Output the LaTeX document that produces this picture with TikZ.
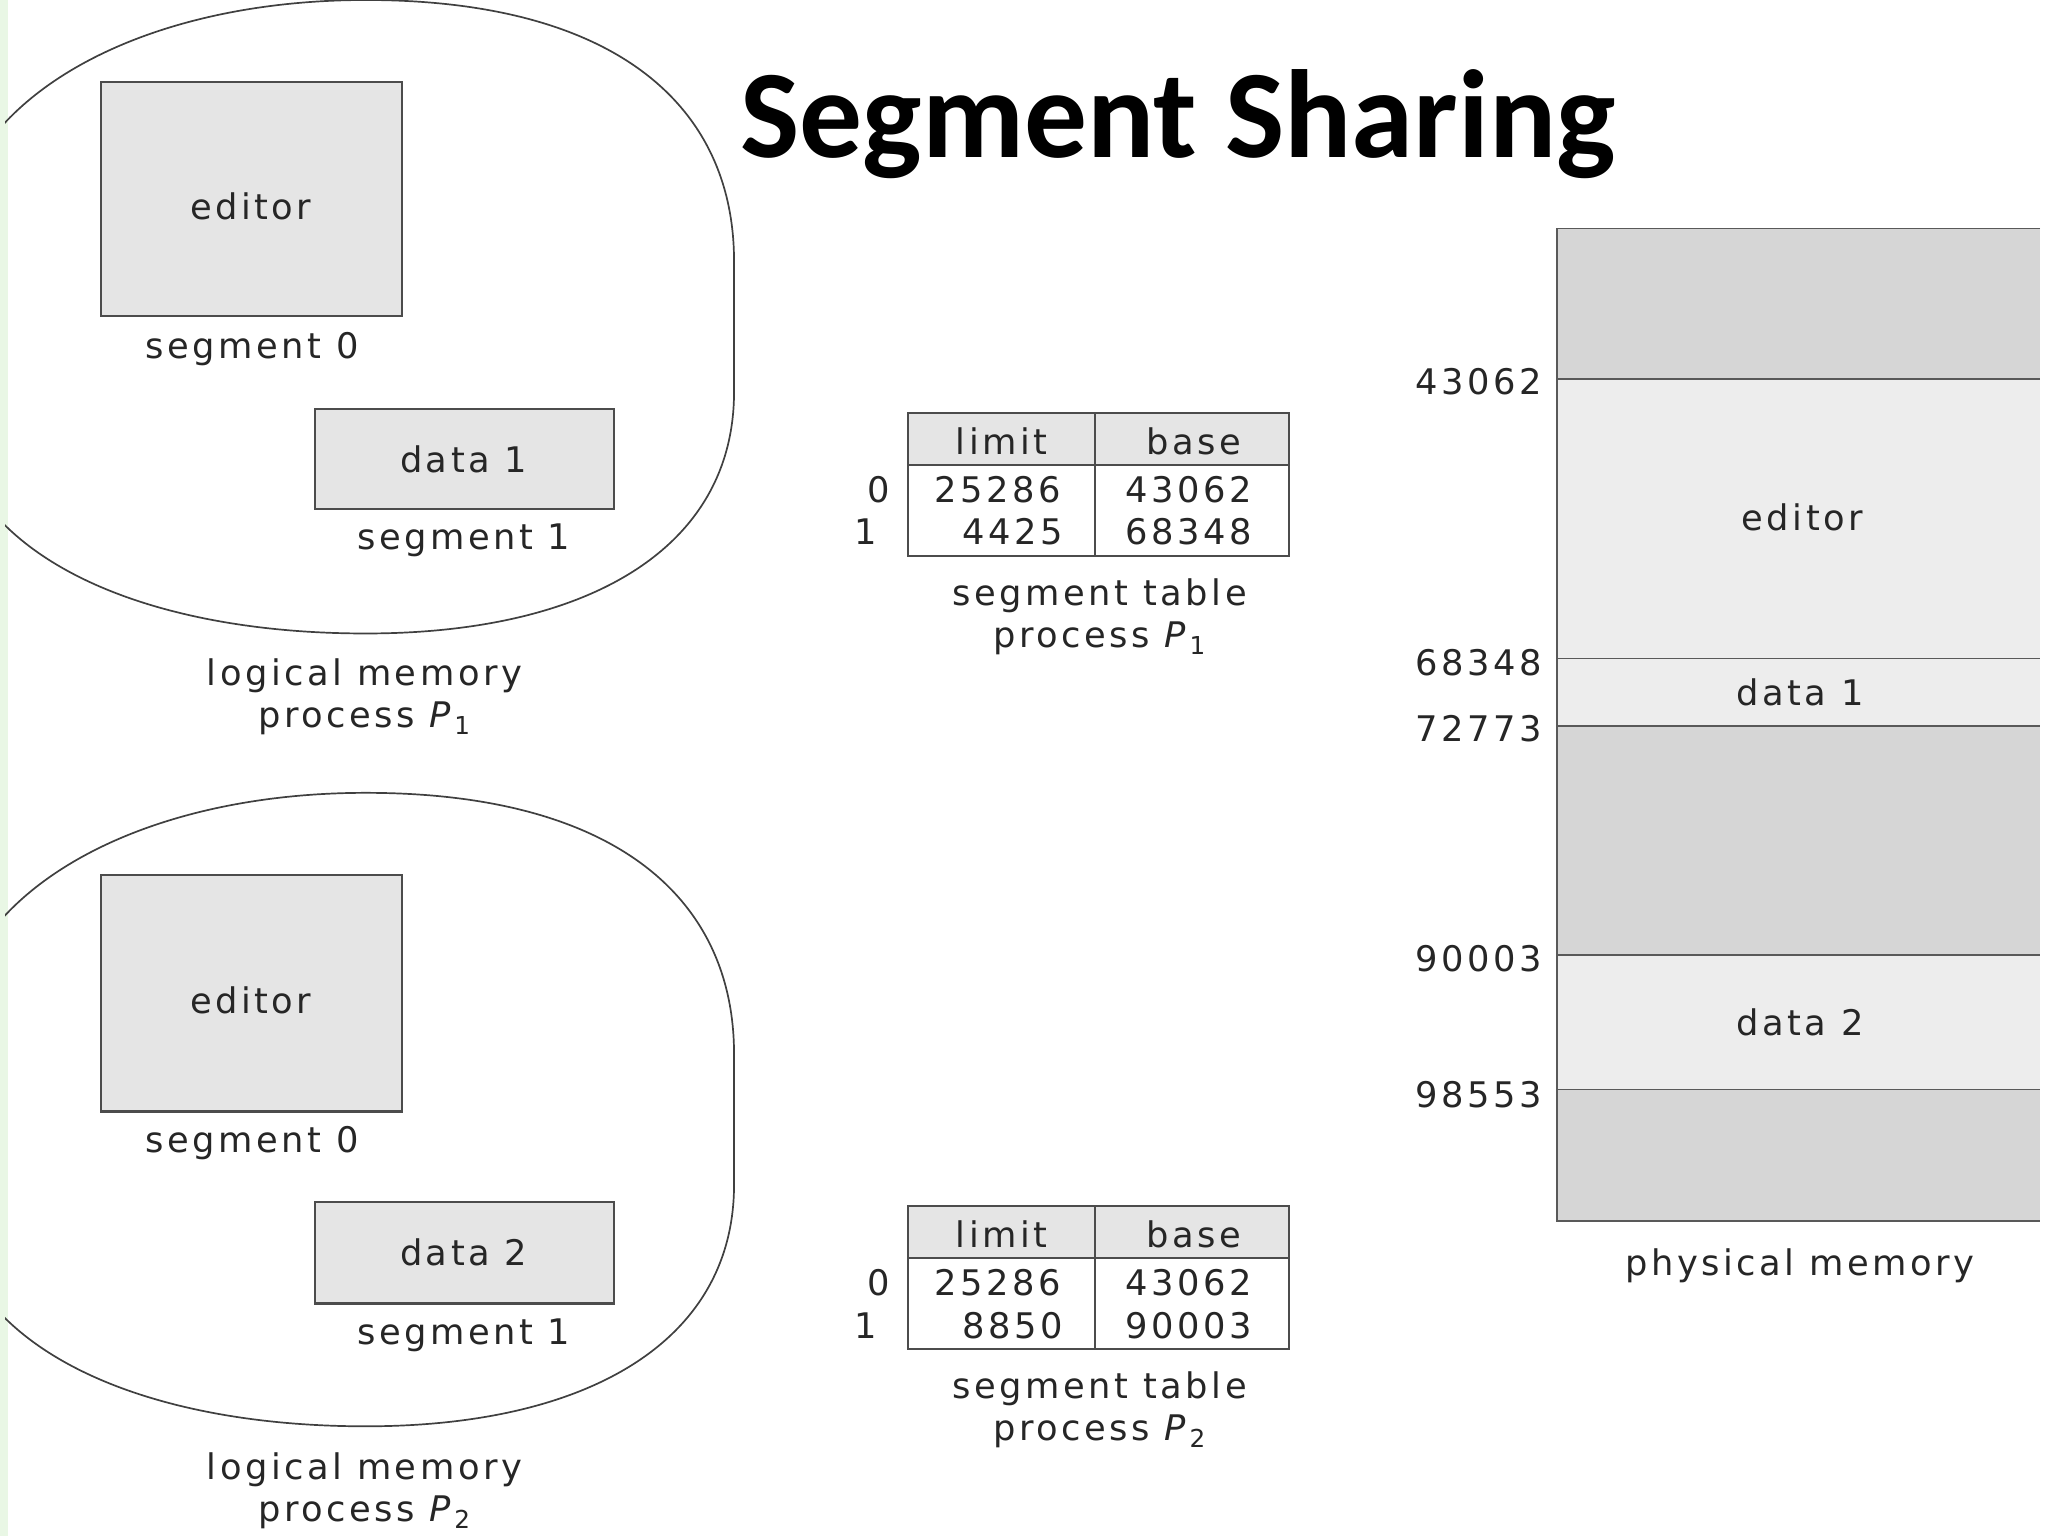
\documentclass[tikz,border=0pt]{standalone}
\usepackage{fontspec}
\setmainfont{DejaVu Sans}[LetterSpace=10]
\newfontfamily\titlefont{Carlito}
\begin{document}
\begin{tikzpicture}[x=1pt,y=-1pt,
  lbl/.style={font=\fontsize{27}{29}\selectfont, text=black!85, inner sep=0pt},
  seg/.style={draw=black!70, line width=1.6pt, fill=black!10},
  dark/.style={fill=black!16},
  light/.style={fill=black!7},
  blob/.style={draw=black!75, line width=1.3pt}]
\useasboundingbox (0,0) rectangle (1568,1176);
\fill[white] (0,0) rectangle (1568,1176);
\fill[yellow!12!green!10] (0,0) rectangle (6,1176);
\begin{scope}
\clip (4,0) rectangle (1568,1176);
\foreach \dy/\nm in {0/b1,607/b2}{
\draw[blob] (280,0+\dy) .. controls (470,0+\dy) and (562,80+\dy) .. (562,200+\dy) -- (562,300+\dy) .. controls (562,420+\dy) and (450,485+\dy) .. (280,485+\dy) .. controls (100,485+\dy) and (-40,420+\dy) .. (-40,300+\dy) -- (-40,200+\dy) .. controls (-40,80+\dy) and (100,0+\dy) .. (280,0+\dy);
}
\end{scope}
\node[font=\titlefont\bfseries\fontsize{96}{100}\selectfont, inner sep=0pt] (title) at (902,95) {Segment Sharing};
% process 1
\draw[seg] (77,63) rectangle (308,242); \node[lbl] (e1) at (192,158) {editor};
\node[lbl] (s10) at (193,267) {segment 0};
\draw[seg] (241,313) rectangle (470,390); \node[lbl] (d1) at (355,352) {data 1};
\node[lbl] (s11) at (355,414) {segment 1};
\node[lbl] (lm1) at (279,517) {logical memory};
\node[lbl] (pp1) at (279,550) {process \textit{P}\textsubscript{1}};
% process 2
\draw[seg] (77,670) rectangle (308,851); \node[lbl] (e2) at (192,766) {editor};
\node[lbl] (s20) at (193,875) {segment 0};
\draw[seg] (241,920) rectangle (470,998); \node[lbl] (d2) at (355,959) {data 2};
\node[lbl] (s21) at (355,1022) {segment 1};
\node[lbl] (lm2) at (279,1125) {logical memory};
\node[lbl] (pp2) at (279,1158) {process \textit{P}\textsubscript{2}};
% table 1
\fill[black!10] (695,316) rectangle (987,356);
\draw[black!70, line width=1.5pt] (695,316) rectangle (987,426) (695,356) -- (987,356) (838,316) -- (838,426);
\node[lbl] (t1l) at (767,338) {limit}; \node[lbl] (t1b) at (914,338) {base};
\node[lbl] (t1a) at (764,375) {25286}; \node[lbl] (t1c) at (910,375) {43062};
\node[lbl,anchor=east] (t1d) at (814,407) {4425}; \node[lbl] (t1e) at (910,407) {68348};
\node[lbl] (t1i0) at (673,375) {0}; \node[lbl] (t1i1) at (663,407) {1};
\node[lbl] (st1) at (842,456) {segment table};
\node[lbl] (sp1) at (842,489) {process \textit{P}\textsubscript{1}};
% table 2
\fill[black!10] (695,923) rectangle (987,963);
\draw[black!70, line width=1.5pt] (695,923) rectangle (987,1033) (695,963) -- (987,963) (838,923) -- (838,1033);
\node[lbl] (t2l) at (767,945) {limit}; \node[lbl] (t2b) at (914,945) {base};
\node[lbl] (t2a) at (764,982) {25286}; \node[lbl] (t2c) at (910,982) {43062};
\node[lbl,anchor=east] (t2d) at (814,1015) {8850}; \node[lbl] (t2e) at (910,1015) {90003};
\node[lbl] (t2i0) at (673,982) {0}; \node[lbl] (t2i1) at (663,1015) {1};
\node[lbl] (st2) at (842,1063) {segment table};
\node[lbl] (sp2) at (842,1096) {process \textit{P}\textsubscript{2}};
% physical memory
\fill[dark] (1192,175) rectangle (1562,290);
\fill[light] (1192,290) rectangle (1562,556);
\fill[dark] (1192,556) rectangle (1562,731);
\fill[light] (1192,731) rectangle (1562,834);
\fill[dark] (1192,834) rectangle (1562,935);
\draw[black!65, line width=1.4pt] (1562,175) -- (1192,175) -- (1192,935) -- (1562,935);
\foreach \yy in {290,504,556,731,834} \draw[black!65, line width=1.2pt] (1192,\yy) -- (1562,\yy);
\node[lbl] (pe) at (1380,396) {editor};
\node[lbl] (pd1) at (1378,530) {data 1};
\node[lbl] (pd2) at (1378,783) {data 2};
\node[lbl] (pm) at (1378,969) {physical memory};
\node[lbl,anchor=east] (a1) at (1181,292) {43062};
\node[lbl,anchor=east] (a2) at (1181,507) {68348};
\node[lbl,anchor=east] (a3) at (1181,558) {72773};
\node[lbl,anchor=east] (a4) at (1181,734) {90003};
\node[lbl,anchor=east] (a5) at (1181,838) {98553};
\end{tikzpicture}
\end{document}
